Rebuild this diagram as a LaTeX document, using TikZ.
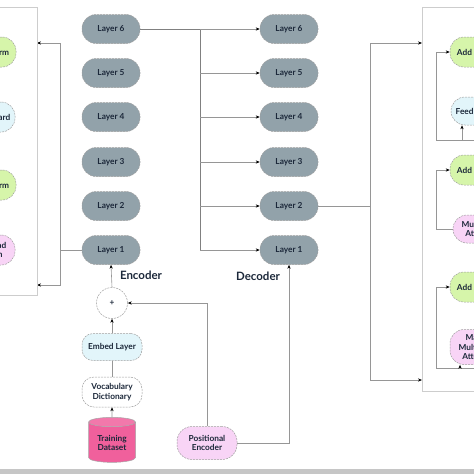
\documentclass[tikz,border=0pt]{standalone}
\usepackage{fontspec}
\setmainfont{Lato}
\usetikzlibrary{shapes.geometric,arrows.meta}
\definecolor{layergray}{RGB}{146,162,170}
\definecolor{normgreen}{RGB}{214,245,170}
\definecolor{ffblue}{RGB}{226,245,250}
\definecolor{attnpink}{RGB}{248,212,246}
\definecolor{datapink}{RGB}{240,96,156}
\definecolor{inkblue}{RGB}{28,40,58}
\definecolor{wiregray}{RGB}{150,150,150}
\definecolor{panelgray}{RGB}{205,205,205}

\begin{document}
\begin{tikzpicture}[
x=1pt, y=-1pt,
box/.style={draw=gray!75, dash pattern=on 2pt off 1pt, line width=0.5pt,
  text=inkblue, font=\bfseries\fontsize{8.3}{9.3}\selectfont, align=center,
  inner sep=1pt, rounded corners=14pt},
layer/.style={box, fill=layergray, minimum width=58pt, minimum height=29pt},
block/.style={box, minimum width=60pt, minimum height=30pt},
wire/.style={draw=wiregray, line width=0.6pt},
feed/.style={wire, -{Stealth[length=4pt, width=3.2pt, color=black]}},
panel/.style={draw=panelgray, line width=0.8pt},
title/.style={text=inkblue, font=\bfseries\fontsize{11.5}{12}\selectfont},
]
\useasboundingbox (0,0) rectangle (474,474);
\clip (0,0) rectangle (474,474);

\node[layer] (enc6) at (111,29) {Layer 6};
\node[layer] (enc5) at (111,73) {Layer 5};
\node[layer] (enc4) at (111,117) {Layer 4};
\node[layer] (enc3) at (111,162) {Layer 3};
\node[layer] (enc2) at (111,206) {Layer 2};
\node[layer] (enc1) at (111,250) {Layer 1};
\node[layer] (dec6) at (289,29) {Layer 6};
\node[layer] (dec5) at (289,73) {Layer 5};
\node[layer] (dec4) at (289,117) {Layer 4};
\node[layer] (dec3) at (289,162) {Layer 3};
\node[layer] (dec2) at (289,206) {Layer 2};
\node[layer] (dec1) at (289,250) {Layer 1};
\node[title] (enctitle) at (141,275) {Encoder};
\node[title] (dectitle) at (258,276) {Decoder};

\node[box, circle, fill=white, minimum size=31pt, inner sep=0pt] (plus) at (112,303) {+};
\node[block, fill=ffblue, minimum height=27pt, rounded corners=11pt] (embed) at (112,347) {Embed Layer};
\node[block, fill=white, rounded corners=12pt] (vocab) at (112,392) {Vocabulary\\Dictionary};
\node[box, cylinder, shape border rotate=90, aspect=0.3, minimum width=47pt,
  minimum height=45pt, rounded corners=0pt, solid, draw=gray!70,
  cylinder uses custom fill, cylinder body fill=datapink,
  cylinder end fill=datapink!85!white] (data) at (112,443) {Training\\Dataset};
\node[block, fill=attnpink, minimum height=33pt, rounded corners=15pt] (posenc) at (207,443) {Positional\\Encoder};

\coordinate (trunk) at (200,0);
\coordinate (enctop) at (37,43);
\coordinate (encbot) at (37,285);
\coordinate (dectop) at (422,43);
\coordinate (decbot) at (422,380);

\draw[wire, draw=gray] (enc6.east) -| (trunk |- dec1.west);
\draw[feed] (dec6.west -| trunk) -- (dec6.west);
\draw[feed] (dec5.west -| trunk) -- (dec5.west);
\draw[feed] (dec4.west -| trunk) -- (dec4.west);
\draw[feed] (dec3.west -| trunk) -- (dec3.west);
\draw[feed] (dec2.west -| trunk) -- (dec2.west);
\draw[feed] (dec1.west -| trunk) -- (dec1.west);

\draw[feed] (enc1.west) -| (60,43) -- (enctop);
\draw[feed] (enc1.west) -| (60,285) -- (encbot);
\draw[feed] (dec2.east) -| (370,43) -- (dectop);
\draw[feed] (dec2.east) -| (370,380) -- (decbot);

\draw[feed] (plus.north) -- (enc1.south);
\draw[feed] (embed.north) -- (plus.south);
\draw[wire] (vocab.north) -- (embed.south);
\draw[feed] (data.north) -- (vocab.south);
\draw[feed] (posenc.north) |- (plus.east);
\draw[feed] (posenc.east) -| (dec1.south);

\draw[panel] (-10,7) -- (37,7) -- (37,295) -- (-10,295);
\node[block, fill=normgreen] (encnorm2) at (-14,52) {Add \& Norm};
\node[block, fill=ffblue] (encffn) at (-15,117) {Feed Forward};
\node[block, fill=normgreen] (encnorm1) at (-14,185) {Add \& Norm};
\node[block, fill=attnpink] (encmha) at (-15,250) {Multi-Head\\Attention};

\draw[panel] (484,7) -- (422,7) -- (422,391) -- (484,391);
\node[block, fill=normgreen] (add1) at (480,52) {Add \& Norm};
\node[block, fill=ffblue, minimum height=28pt] (ffn) at (481,111) {Feed Forward};
\node[block, fill=normgreen] (add2) at (480,170) {Add \& Norm};
\node[block, fill=attnpink, minimum height=28pt] (mha) at (483,229) {Multi-Head\\Attention};
\node[block, fill=normgreen] (add3) at (480,287) {Add \& Norm};
\node[block, fill=attnpink, minimum height=35pt] (mmha) at (480,347) {Masked\\Multi-Head\\Attention};

\coordinate (rbar) at (436,0);
\coordinate (res1) at (490,140);
\coordinate (ffin) at (462,140);
\coordinate (res3) at (490,368);
\coordinate (mmin) at (460,368);
\draw[feed] (res1) -| (add1.west -| rbar) -- (add1.west);
\draw[feed] (ffin) -- (ffin |- ffn.south);
\draw[feed] (mha.west) -| (add2.west -| rbar) -- (add2.west);
\draw[feed] (res3) -| (add3.west -| rbar) -- (add3.west);
\draw[feed] (mmin) -- (mmin |- mmha.south);

\fill[gray!45] (0,469) rectangle (474,474);
\end{tikzpicture}
\end{document}
